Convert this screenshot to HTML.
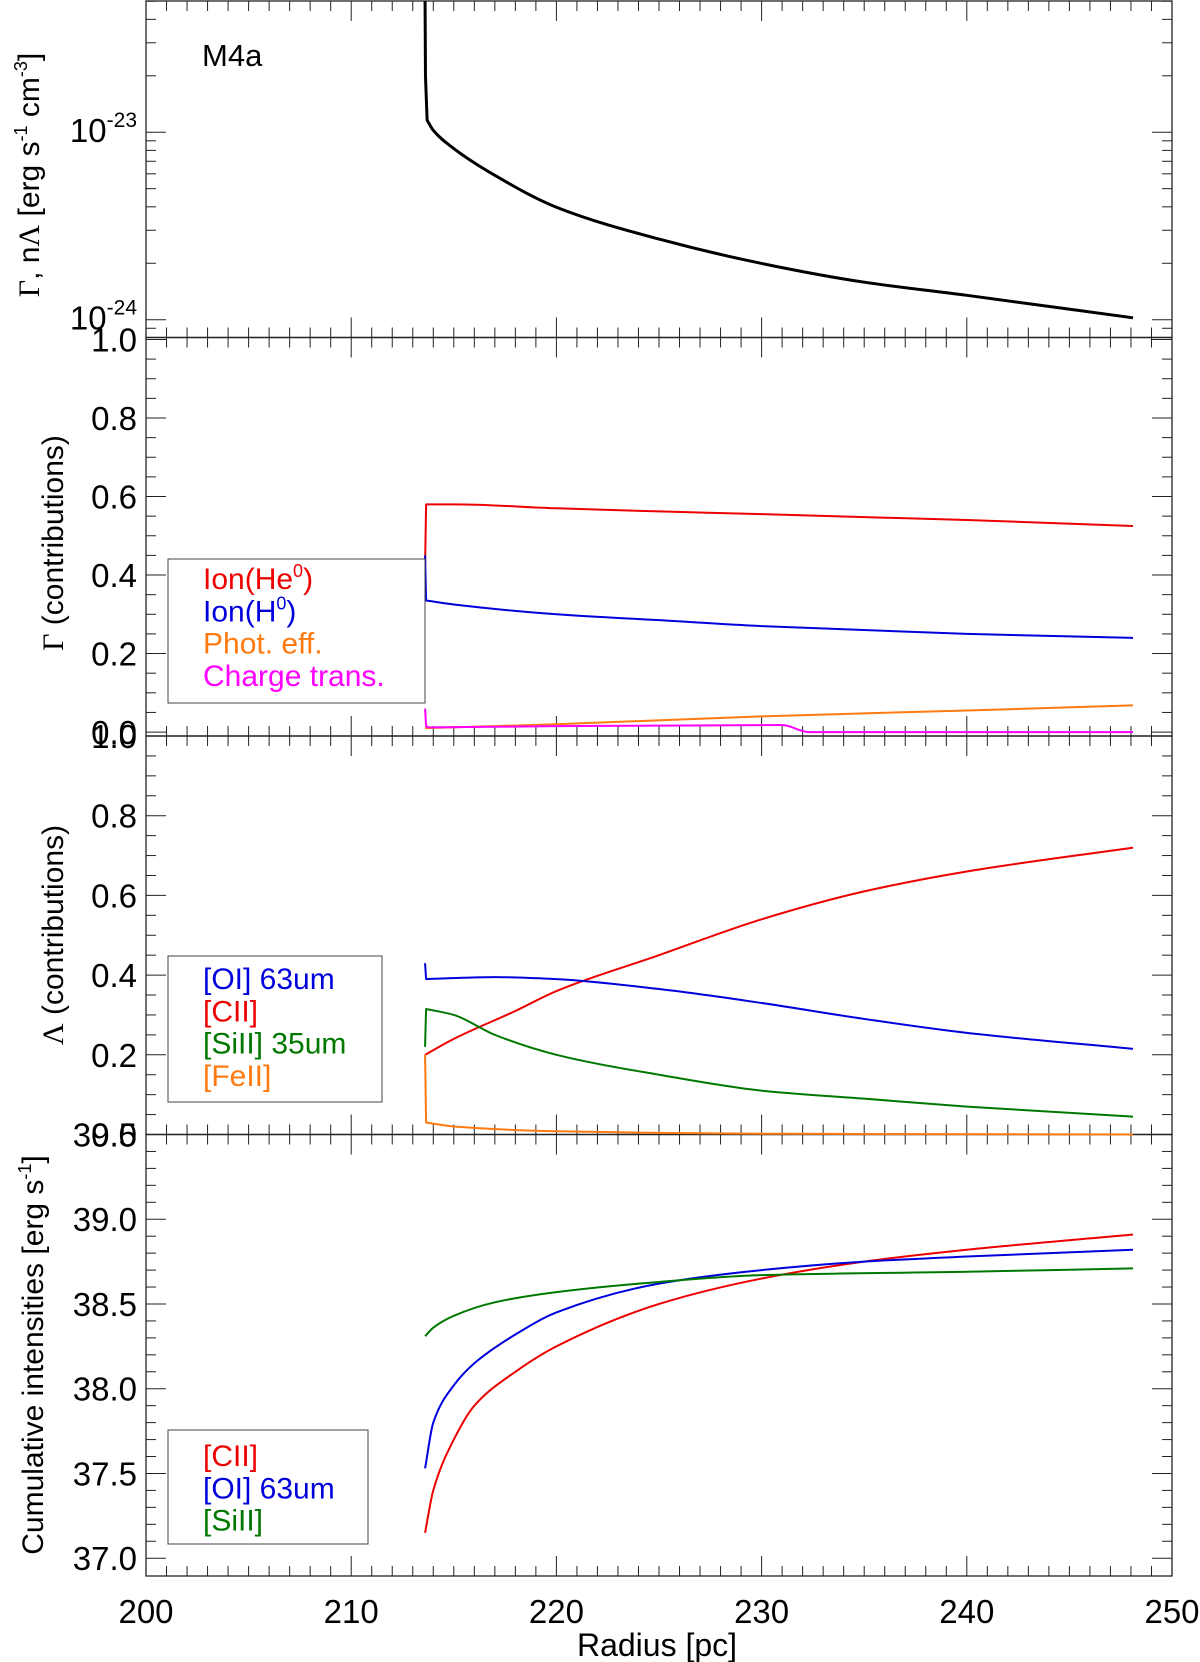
<!DOCTYPE html>
<html><head><meta charset="utf-8"><style>
html,body{margin:0;padding:0;background:#fff;}
svg{display:block;font-family:"Liberation Sans",sans-serif;}
</style></head><body>
<svg id="chart" width="1200" height="1662" viewBox="0 0 1200 1662" xmlns="http://www.w3.org/2000/svg"></svg>
<script>
// ---- data ----
const p1R = [213.6, 213.62, 213.7, 214, 215, 217, 220, 225, 230, 235, 240, 248.1];
const p1Log = [-22.3, -22.7, -22.936, -22.99, -23.087, -23.23, -23.40, -23.57, -23.70, -23.80, -23.87, -23.99];

const gR = [213.6, 213.65, 215, 220, 225, 230, 240, 248.1];
const gHe = [0.42, 0.58, 0.58, 0.57, 0.562, 0.555, 0.54, 0.525];
const gH = [0.45, 0.335, 0.325, 0.30, 0.285, 0.27, 0.25, 0.24];
const gPhotR = [213.6, 220, 230, 240, 248.1];
const gPhot = [0.01, 0.02, 0.04, 0.055, 0.068];
const gChR = [213.6, 213.65, 213.8, 220, 231, 232.3, 240, 248.1];
const gCh = [0.06, 0.015, 0.012, 0.015, 0.018, 0.0, 0.0, 0.0];

const lOIR = [213.6, 213.65, 217, 220, 225, 230, 235, 240, 248.1];
const lOI = [0.43, 0.39, 0.395, 0.39, 0.365, 0.33, 0.29, 0.255, 0.215];
const lCIIR = [213.6, 215, 218, 220, 225, 230, 235, 240, 248.1];
const lCII = [0.2, 0.24, 0.31, 0.36, 0.45, 0.54, 0.61, 0.66, 0.72];
const lSiR = [213.6, 213.65, 215, 217, 220, 225, 230, 235, 240, 248.1];
const lSi = [0.22, 0.315, 0.3, 0.25, 0.2, 0.15, 0.11, 0.09, 0.07, 0.045];
const lFeR = [213.6, 213.65, 215, 220, 225, 230, 248.1];
const lFe = [0.2, 0.03, 0.02, 0.008, 0.004, 0.002, 0.0];

const cCIIR = [213.6, 214, 215, 216, 218, 220, 225, 230, 235, 240, 248.1];
const cCII = [37.15, 37.4, 37.7, 37.9, 38.1, 38.25, 38.5, 38.65, 38.75, 38.82, 38.91];
const cOIR = [213.6, 214, 215, 216, 218, 220, 225, 230, 235, 240, 248.1];
const cOI = [37.53, 37.8, 38.02, 38.15, 38.32, 38.45, 38.62, 38.7, 38.75, 38.78, 38.82];
const cSiR = [213.6, 214, 215, 217, 220, 225, 230, 240, 248.1];
const cSi = [38.31, 38.36, 38.43, 38.51, 38.57, 38.63, 38.67, 38.69, 38.71];

const xTicks = [200, 210, 220, 230, 240, 250];
const fracTicks = [0.0, 0.2, 0.4, 0.6, 0.8, 1.0];
const cumTicks = [37.0, 37.5, 38.0, 38.5, 39.0, 39.5];

// ---- layout ----
const NS = "http://www.w3.org/2000/svg";
const svg = document.getElementById('chart');
const X0 = 146, X1 = 1172;
const xs = r => X0 + (r - 200) / 50 * (X1 - X0);
function mk(tag, attrs, parent) {
  const e = document.createElementNS(NS, tag);
  for (const k in attrs) e.setAttribute(k, attrs[k]);
  (parent || svg).appendChild(e);
  return e;
}
const panels = [
  {name:'heating-cooling-panel', top:1, bot:337.5, ymin:-24.095, ymax:-22.30},
  {name:'heating-contributions-panel', top:337.5, bot:736, ymin:-0.01, ymax:1.005},
  {name:'cooling-contributions-panel', top:736, bot:1134.5, ymin:0.0, ymax:1.0},
  {name:'cumulative-intensities-panel', top:1134.5, bot:1576, ymin:36.895, ymax:39.5}
];
panels.forEach(p => { p.ys = v => p.bot - (v - p.ymin) / (p.ymax - p.ymin) * (p.bot - p.top); });

// monotone cubic (Fritsch-Carlson) in x
function path(p, R, V, color, w, name) {
  const X = R.map(xs), Y = V.map(p.ys), n = X.length;
  const h = [], s = [];
  for (let i = 0; i < n - 1; i++) { h.push(Math.max(X[i + 1] - X[i], 1e-6)); s.push((Y[i + 1] - Y[i]) / h[i]); }
  const m = new Array(n);
  m[0] = s[0]; m[n - 1] = s[n - 2];
  for (let i = 1; i < n - 1; i++) {
    if (s[i - 1] * s[i] <= 0) m[i] = 0;
    else m[i] = 3 * (h[i - 1] + h[i]) / ((2 * h[i] + h[i - 1]) / s[i - 1] + (h[i] + 2 * h[i - 1]) / s[i]);
  }
  let d = 'M' + X[0].toFixed(2) + ' ' + Y[0].toFixed(2);
  for (let i = 0; i < n - 1; i++) {
    if (h[i] < 3) { d += ' L' + X[i + 1].toFixed(2) + ' ' + Y[i + 1].toFixed(2); continue; }
    const m0 = (i > 0 && h[i - 1] < 3) ? s[i] : m[i];
    const m1 = (i + 1 < n - 1 && h[i + 1] < 3) ? s[i] : m[i + 1];
    const c1x = X[i] + h[i] / 3, c1y = Y[i] + m0 * h[i] / 3;
    const c2x = X[i + 1] - h[i] / 3, c2y = Y[i + 1] - m1 * h[i] / 3;
    d += ' C' + c1x.toFixed(2) + ' ' + c1y.toFixed(2) + ' ' + c2x.toFixed(2) + ' ' + c2y.toFixed(2) + ' ' + X[i + 1].toFixed(2) + ' ' + Y[i + 1].toFixed(2);
  }
  const e = mk('path', {d: d, fill: 'none', stroke: color, 'stroke-width': w, 'stroke-linejoin': 'round'});
  
  
}
function text(x, y, str, size, anchor, color, name, parent) {
  const t = mk('text', {x: x, y: y, 'font-size': size, 'text-anchor': anchor || 'start', fill: color || '#000'}, parent);
  t.innerHTML = str;
  
  
  return t;
}
function tick(x1, y1, x2, y2) { mk('line', {x1: x1, y1: y1, x2: x2, y2: y2, stroke: '#222', 'stroke-width': 1}); }

panels.forEach(p => {
  const f = mk('rect', {x: X0, y: p.top, width: X1 - X0, height: p.bot - p.top, fill: 'none', stroke: '#222', 'stroke-width': 1.3});
  
  
  for (let r = 200; r <= 250; r++) {
    const L = (r % 10 === 0) ? 20 : 10;
    tick(xs(r), p.bot, xs(r), p.bot - L);
    tick(xs(r), p.top, xs(r), p.top + L);
  }
});
(function () {
  const p = panels[0];
  for (let dec = -25; dec <= -22; dec++) {
    for (let m = 1; m <= 9; m++) {
      const lv = dec + Math.log10(m);
      if (lv < p.ymin || lv > p.ymax) continue;
      const L = m === 1 ? 20 : 10;
      const y = p.ys(lv);
      tick(X0, y, X0 + L, y); tick(X1, y, X1 - L, y);
    }
  }
  [-23, -24].forEach(e => {
    text(137, p.ys(e) + 10, '10<tspan font-size="21" dy="-15">' + e + '</tspan>', 33, 'end', '#000', 'y-tick-label');
  });
})();
[1, 2].forEach(i => {
  const p = panels[i];
  for (let k = 0; k <= 20; k++) {
    const v = k * 0.05, y = p.ys(v);
    const L = (k % 4 === 0) ? 20 : 10;
    tick(X0, y, X0 + L, y); tick(X1, y, X1 - L, y);
  }
  fracTicks.forEach(v => text(137, p.ys(v) + 12, v.toFixed(1), 33, 'end', '#000', 'y-tick-label'));
});
(function () {
  const p = panels[3];
  for (let k = 0; k <= 25; k++) {
    const v = 37 + k * 0.1, y = p.ys(v);
    const L = (k % 5 === 0) ? 20 : 10;
    tick(X0, y, X0 + L, y); tick(X1, y, X1 - L, y);
  }
  cumTicks.forEach(v => text(137, p.ys(v) + 12, v.toFixed(1), 33, 'end', '#000', 'y-tick-label'));
})();
xTicks.forEach(v => text(xs(v), 1623, String(v), 33, 'middle', '#000', 'x-tick-label'));
text(657, 1656, 'Radius [pc]', 32, 'middle', '#000', 'x-axis-title');

function ytitle(cx, cy, html, name) {
  const t = text(0, 0, html, 30, 'middle', '#000', name);
  t.setAttribute('transform', 'translate(' + cx + ',' + cy + ') rotate(-90)');
}
ytitle(39, 175, '<tspan font-family="Liberation Serif">Γ</tspan>, n<tspan font-family="Liberation Serif">Λ</tspan> [erg s<tspan font-size="18" dy="-12">-1</tspan><tspan dy="12"> cm</tspan><tspan font-size="18" dy="-12">-3</tspan><tspan dy="12">]</tspan>', 'y-axis-title-rates');
ytitle(63, 543, '<tspan font-family="Liberation Serif">Γ</tspan> (contributions)', 'y-axis-title-heating');
ytitle(63, 935, '<tspan font-family="Liberation Serif">Λ</tspan> (contributions)', 'y-axis-title-cooling');
ytitle(43, 1355, 'Cumulative intensities [erg s<tspan font-size="18" dy="-12">-1</tspan><tspan dy="12">]</tspan>', 'y-axis-title-cumulative');

text(202, 66, 'M4a', 31, 'start', '#000', 'model-label');

const RED = '#ee0000', BLUE = '#0000dd', ORANGE = '#ff7a10', MAG = '#ff00ff', GREEN = '#007800';
path(panels[0], p1R, p1Log, '#000', 3, 'heating-cooling-curve');
path(panels[1], gR, gHe, RED, 2, 'ion-he-line');
path(panels[1], gR, gH, BLUE, 2, 'ion-h-line');
path(panels[1], gPhotR, gPhot, ORANGE, 2, 'phot-eff-line');
path(panels[1], gChR, gCh, MAG, 2, 'charge-trans-line');
path(panels[2], lCIIR, lCII, RED, 2, 'cii-cooling-line');
path(panels[2], lOIR, lOI, BLUE, 2, 'oi-cooling-line');
path(panels[2], lSiR, lSi, GREEN, 2, 'siii-cooling-line');
path(panels[2], lFeR, lFe, ORANGE, 2, 'feii-cooling-line');
path(panels[3], cCIIR, cCII, RED, 2, 'cii-cumulative-line');
path(panels[3], cOIR, cOI, BLUE, 2, 'oi-cumulative-line');
path(panels[3], cSiR, cSi, GREEN, 2, 'siii-cumulative-line');

function legend(x, y, w, h, entries, base, name) {
  const g = mk('g', {});
  
  
  mk('rect', {x: x, y: y, width: w, height: h, fill: '#fff', stroke: '#444', 'stroke-width': 1}, g);
  entries.forEach((e, i) => text(203, base + i * 32.3, e[0], 30, 'start', e[1], 'legend-entry', g));
}
legend(168, 559, 257, 144, [
  ['Ion(He<tspan font-size="18" dy="-12">0</tspan><tspan dy="12">)</tspan>', RED],
  ['Ion(H<tspan font-size="18" dy="-12">0</tspan><tspan dy="12">)</tspan>', BLUE],
  ['Phot. eff.', ORANGE],
  ['Charge trans.', MAG]], 589, 'heating-legend');
legend(168, 956, 214, 146, [
  ['[OI] 63um', BLUE], ['[CII]', RED], ['[SiII] 35um', GREEN], ['[FeII]', ORANGE]], 989, 'cooling-legend');
legend(168, 1430, 200, 114, [
  ['[CII]', RED], ['[OI] 63um', BLUE], ['[SiII]', GREEN]], 1466, 'cumulative-legend');
</script>
</body></html>
